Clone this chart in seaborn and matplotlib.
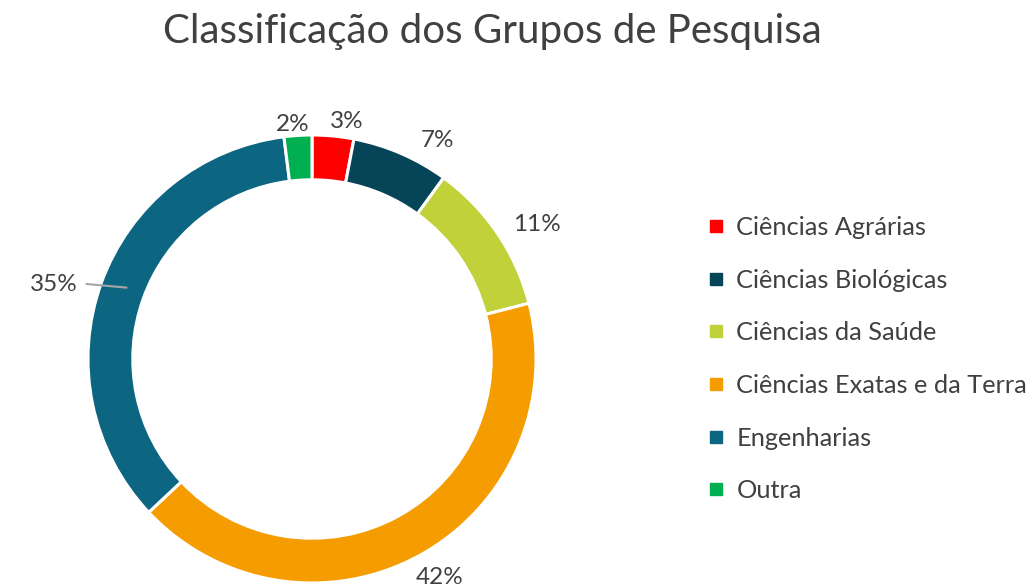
import numpy as np
import matplotlib
matplotlib.use("Agg")
import matplotlib.pyplot as plt
import seaborn as sns
from matplotlib.lines import Line2D

categories = ["Ciências Agrárias", "Ciências Biológicas", "Ciências da Saúde",
              "Ciências Exatas e da Terra", "Engenharias", "Outra"]
values = [3, 7, 11, 42, 35, 2]
pct_labels = ["3%", "7%", "11%", "42%", "35%", "2%"]
colors = ["#FF0000", "#064457", "#C0D13A", "#F59D00", "#0C6581", "#00B050"]

sns.set_theme(style="white")
plt.rcParams['font.family'] = ['Lato', 'DejaVu Sans']

W, H = 1032, 588
fig = plt.figure(figsize=(W / 100, H / 100), dpi=100)
ax = fig.add_axes([0, 0, 1, 1])

cx, cy, R = 312, 588 - 359, 224
ring = 0.2
wedges, _ = ax.pie(values, colors=sns.color_palette(colors), startangle=90, counterclock=False,
                   center=(cx, cy), radius=R, frame=True,
                   wedgeprops=dict(width=R * ring, edgecolor="white", linewidth=2.2))
ax.set_xlim(0, W)
ax.set_ylim(0, H)
ax.set_aspect("equal")
ax.axis("off")

# label placement: (radial distance factor, angular shift in degrees)
label_place = [(1.07, -3.0), (1.125, -6.6), (1.17, -3.3), (1.13, 1.5), (1.2, 3.8), (1.05, 1.0)]
for w, lab, (d, shift) in zip(wedges, pct_labels, label_place):
    mid = (w.theta1 + w.theta2) / 2
    ang = np.deg2rad(mid + shift)
    tx, ty = cx + R * d * np.cos(ang), cy + R * d * np.sin(ang)
    if lab == "35%":
        a0 = np.deg2rad(mid)
        rmid = R * (1 - ring / 2)
        x0, y0 = cx + rmid * np.cos(a0) + 5, cy + rmid * np.sin(a0) + 3
        ax.plot([x0, tx + 32], [y0, ty + 1], color="#A6A6A6", lw=1.5, solid_capstyle="butt")
        ax.text(tx, ty, lab, ha="center", va="center", fontsize=17.5, color="#404040")
    else:
        ax.text(tx, ty, lab, ha="center", va="center", fontsize=17.5, color="#404040")

fig.text(492 / W, 1 - 32 / H, "Classificação dos Grupos de Pesquisa", ha="center", va="center",
         fontsize=29, color="#404040")

handles = [Line2D([0], [0], marker="s", linestyle="none", markersize=9,
                  markerfacecolor=c, markeredgecolor=c) for c in colors]
leg = fig.legend(handles, categories, loc="upper left", bbox_to_anchor=(697 / W, 1 - 206 / H),
                 frameon=False, fontsize=18.3, labelspacing=1.165, handlelength=0.7,
                 handletextpad=0.45, borderaxespad=0)
for t in leg.get_texts():
    t.set_color("#404040")

fig.savefig("out.png", dpi=100, facecolor="white")
